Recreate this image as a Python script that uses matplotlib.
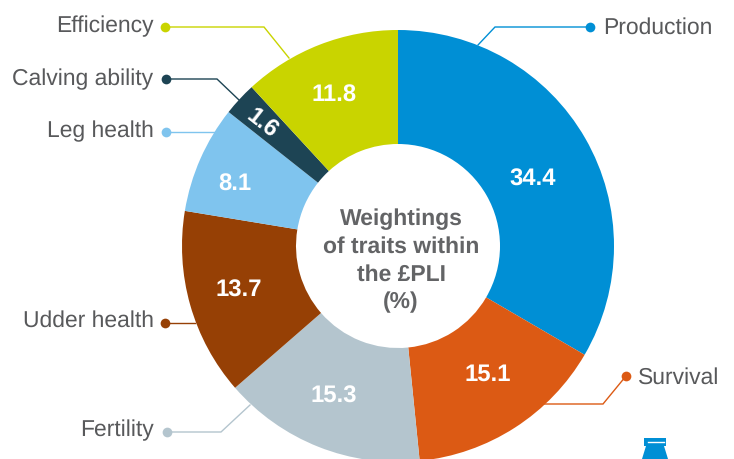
import matplotlib.pyplot as plt
from matplotlib.patches import Polygon

plt.rcParams['font.family'] = ['Liberation Sans', 'DejaVu Sans']
plt.rcParams['text.hinting'] = 'no_hinting'

# traits clockwise from the top
traits = ["Production", "Survival", "Fertility", "Udder health", "Leg health", "Calving ability", "Efficiency"]
printed = ["34.4", "15.1", "15.3", "13.7", "8.1", "1.6", "11.8"]
# share of the circle as drawn, the slices don't follow the printed numbers exactly
drawn = [33.4, 15.0, 15.2, 14.0, 8.05, 2.5, 11.85]
colors = ["#008fd5", "#dc5a14", "#b4c5ce", "#964005", "#7fc4ee", "#1d4454", "#c9d400"]

W, H = 734, 459
cx, cy = 398, 246
R, r = 216, 102
grey = "#58595b"


def py(y):
    return H - y


fig = plt.figure(figsize=(W / 100, H / 100), dpi=100)
ax = fig.add_axes([0, 0, 1, 1])

ax.pie(drawn, colors=colors, startangle=90, counterclock=False, radius=R, center=(cx, py(cy)),
       wedgeprops=dict(width=R - r, linewidth=0), frame=False)
ax.set_xlim(0, W)
ax.set_ylim(0, H)
ax.set_aspect("equal")
ax.axis("off")

# value labels
val_pos = [(533, 180), (488, 375), (334, 397), (239, 291), (235, 185), (262, 124), (334, 95.5)]
val_rot = [0, 0, 0, 0, 0, -38, 0]
for s, (x, y), rot in zip(printed, val_pos, val_rot):
    ax.text(x, py(y), s, color="white", fontsize=17.2, fontweight="bold", ha="center", va="center",
            rotation=rot, rotation_mode="anchor")

# leader lines, dot first
leaders = [
    [(590, 27), (495, 27), (478, 45)],
    [(626, 376), (603, 404), (525, 404)],
    [(167, 432), (221, 432), (250, 405)],
    [(165, 323), (195, 323)],
    [(166, 132), (215, 132)],
    [(166, 79), (217, 79), (239, 100)],
    [(165, 27), (264, 27), (289, 58)],
]
for pts, c in zip(leaders, colors):
    xs = [p[0] for p in pts]
    ys = [py(p[1]) for p in pts]
    ax.plot(xs, ys, color=c, lw=1.0, solid_joinstyle="miter", zorder=0)
    ax.plot(xs[0], ys[0], "o", color=c, ms=7, mew=0)

name_pos = [(603, 28, "left"), (638, 378, "left"), (153.5, 430, "right"), (153.5, 321, "right"),
            (153.5, 131, "right"), (153.5, 79, "right"), (153.5, 26, "right")]
for s, (x, y, ha) in zip(traits, name_pos):
    ax.text(x, py(y), s, color=grey, fontsize=16.5, ha=ha, va="center")

ax.text(cx + 3, py(261), "Weightings\nof traits within\nthe £PLI\n(%)", color="#636466", fontsize=16.5,
        fontweight="bold", ha="center", va="center", linespacing=1.37)

# bit of the page icon cut off at the bottom right
ax.add_patch(Polygon([(644, py(438)), (666, py(438)), (666, py(446)), (664, py(446)), (668, py(459)),
                      (642, py(459)), (646, py(446)), (644, py(446))], closed=True, color="#008fd5", lw=0))
ax.plot([648, 664], [py(442), py(442)], color="white", lw=1.0)

fig.savefig("out.png", dpi=100)
